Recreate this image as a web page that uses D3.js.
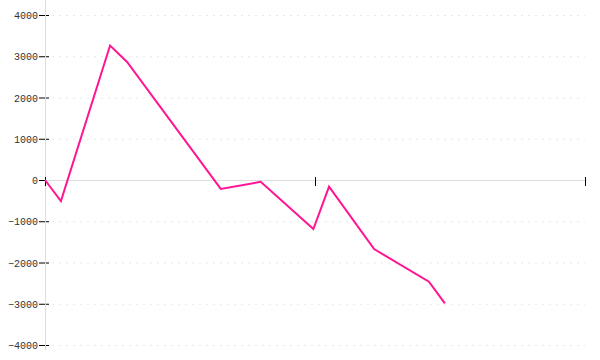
<!DOCTYPE html>
<html>
<head>
<meta charset="utf-8">
<script src="https://cdn.jsdelivr.net/npm/d3@7"></script>
<style>
  body { margin: 0; background: #fff; }
  .tickLabel { font-family: "Liberation Mono", monospace; font-size: 10px; fill: #333; }
</style>
</head>
<body>
<div id="chart"></div>
<script>
let svgWidth = 600;
let svgHeight = 360;

// x positions of the points (no labels shown on the chart)
let xValues = [0, 5.9, 24.1, 30.4, 65.1, 79.9, 99.4, 105.2, 121.9, 142.2, 148.1];
let yValues = [0, -510, 3260, 2860, -215, -45, -1190, -160, -1675, -2465, -2990];
let yTicks = [-4000, -3000, -2000, -1000, 0, 1000, 2000, 3000, 4000];
let xTicks = [0, 100, 200];

let data = xValues.map((x, i) => ({ x: x, y: yValues[i] }));

let svg = d3.select("#chart")
    .append("svg")
    .attr("width", svgWidth)
    .attr("height", svgHeight);

let xScale = d3.scaleLinear()
    .domain([0, 200])
    .range([45, 585]);

let yScale = d3.scaleLinear()
    .domain([-4000, 4000])
    .range([345, 15]);

// dashed gridlines
svg.append("g")
    .selectAll("line")
    .data(yTicks.filter(d => d !== 0))
    .enter()
    .append("line")
    .attr("x1", 52)
    .attr("x2", 585)
    .attr("y1", d => yScale(d) + 0.5)
    .attr("y2", d => yScale(d) + 0.5)
    .attr("stroke", "#e8e8e8")
    .attr("stroke-dasharray", "2,5");

// y tick marks and labels
let yTickG = svg.append("g")
    .selectAll("g")
    .data(yTicks)
    .enter()
    .append("g")
    .attr("transform", d => `translate(0, ${yScale(d) + 0.5})`);

yTickG.append("line")
    .attr("x1", 39)
    .attr("x2", 49)
    .attr("stroke", "#000");

yTickG.append("text")
    .attr("class", "tickLabel")
    .attr("x", 38)
    .attr("dy", "0.35em")
    .attr("text-anchor", "end")
    .text(d => d3.format("")(d).replace("-", "\u2212"));

// y axis line
svg.append("line")
    .attr("x1", 45.5)
    .attr("x2", 45.5)
    .attr("y1", 0)
    .attr("y2", 350)
    .attr("stroke", "#ddd");

// zero line (x axis)
svg.append("line")
    .attr("x1", 45)
    .attr("x2", 585)
    .attr("y1", yScale(0) + 0.5)
    .attr("y2", yScale(0) + 0.5)
    .attr("stroke", "#ddd");

// x ticks
svg.append("g")
    .selectAll("line")
    .data(xTicks)
    .enter()
    .append("line")
    .attr("x1", d => xScale(d) + 0.5)
    .attr("x2", d => xScale(d) + 0.5)
    .attr("y1", yScale(0) - 3)
    .attr("y2", yScale(0) + 6)
    .attr("stroke", "#000");

let line = d3.line()
    .x(d => xScale(d.x))
    .y(d => yScale(d.y));

svg.append("path")
    .datum(data)
    .attr("d", line)
    .attr("fill", "none")
    .attr("stroke", "#ff1493")
    .attr("stroke-width", 2);
</script>
</body>
</html>
